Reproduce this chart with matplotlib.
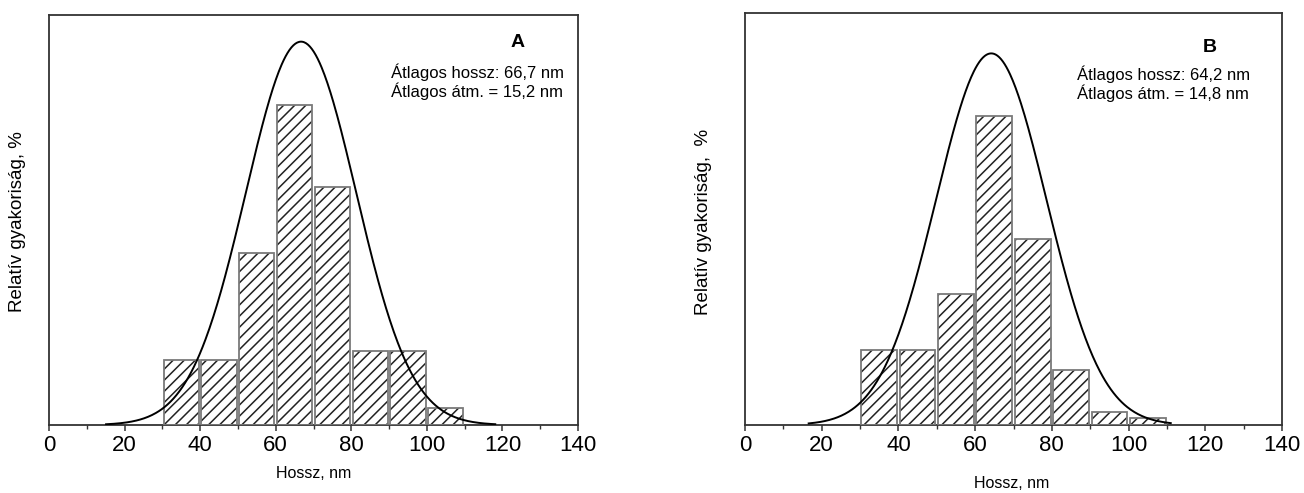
"""Length distribution histograms (A, B) with fitted normal curves
"""

import numpy as np
from matplotlib import pyplot as plt

# bin centres (nm) and relative heights
bin_centres = [35, 45, 55, 65, 75, 85, 95, 105]
heights_a = [15.9, 15.9, 42.0, 78.0, 58.0, 18.1, 18.1, 4.1]
heights_b = [18.3, 18.3, 31.7, 75.1, 45.1, 13.3, 3.2, 1.6]

# fitted curves: mean, sigma, peak height, x range
fit_a = dict(mean=66.7, sigma=14.6, peak=93.5, x0=15.1, x1=118.1)
fit_b = dict(mean=64.2, sigma=14.4, peak=90.2, x0=16.6, x1=111.0)

labels_a = ["A", "Átlagos hossz: 66,7 nm", "Átlagos átm. = 15,2 nm"]
labels_b = ["B", "Átlagos hossz: 64,2 nm", "Átlagos átm. = 14,8 nm"]

x_ticks = [0, 20, 40, 60, 80, 100, 120, 140]

W, H = 1304, 493
arial = ['Liberation Sans', 'DejaVu Sans']

plt.close("all")
plt.rcParams['hatch.linewidth'] = 1.1
fig = plt.figure(figsize=(W / 100, H / 100), dpi=100)


def px_axes(left, top, right, bottom):
    return fig.add_axes([left / W, 1 - bottom / H, (right - left) / W, (bottom - top) / H])


def draw_panel(ax, heights, fit, labels, txt_pos):
    ax.bar(bin_centres, heights, width=9.3, color='white', edgecolor='#222222',
           linewidth=0, hatch='///', zorder=2)
    ax.bar(bin_centres, heights, width=9.3, fill=False, edgecolor='#7a7a7a',
           linewidth=1.3, zorder=3)
    xs = np.linspace(fit['x0'], fit['x1'], 400)
    ys = fit['peak'] * np.exp(-(xs - fit['mean']) ** 2 / (2 * fit['sigma'] ** 2))
    ax.plot(xs, ys, color='black', linewidth=1.4, zorder=4)

    ax.set_xlim(0, 140)
    ax.set_ylim(0, 100)
    ax.set_yticks([])
    ax.set_xticks(x_ticks)
    ax.set_xticks(range(10, 140, 20), minor=True)
    ax.tick_params(axis='x', which='both', direction='out', color='#333333')
    ax.tick_params(axis='x', which='major', length=4, width=1.1, pad=3.5)
    ax.tick_params(axis='x', which='minor', length=3, width=1.0)
    for lab in ax.get_xticklabels():
        lab.set_family(arial)
        lab.set_fontsize(16)
    for sp in ax.spines.values():
        sp.set_color('#333333')
        sp.set_linewidth(1.3)

    (xa, ya), (xt, y1, y2) = txt_pos
    ax.text(xa, ya, labels[0], transform=ax.transAxes, ha='center', va='center',
            fontsize=14, fontweight='bold', family=arial)
    ax.text(xt, y1, labels[1], transform=ax.transAxes, ha='left', va='center',
            fontsize=12, family=arial)
    ax.text(xt, y2, labels[2], transform=ax.transAxes, ha='left', va='center',
            fontsize=12, family=arial)


ax_a = px_axes(49, 15, 578, 425)
ax_b = px_axes(745, 13, 1282, 425)

draw_panel(ax_a, heights_a, fit_a, labels_a, ((0.885, 0.932), (0.646, 0.861, 0.815)))
draw_panel(ax_b, heights_b, fit_b, labels_b, ((0.866, 0.917), (0.618, 0.852, 0.806)))

fig.text(314 / W, 1 - 474 / H, "Hossz, nm", ha='center', va='center',
         fontsize=11.5, family=arial)
fig.text(1012 / W, 1 - 484 / H, "Hossz, nm", ha='center', va='center',
         fontsize=11.5, family=arial)
fig.text(18 / W, 1 - 222 / H, "Relatív gyakoriság, %", rotation=90,
         ha='center', va='center', fontsize=13.5, family=arial)
fig.text(703 / W, 1 - 222 / H, "Relatív gyakoriság,  %", rotation=90,
         ha='center', va='center', fontsize=13.5, family=arial)

fig.savefig("out.png", dpi=100)
